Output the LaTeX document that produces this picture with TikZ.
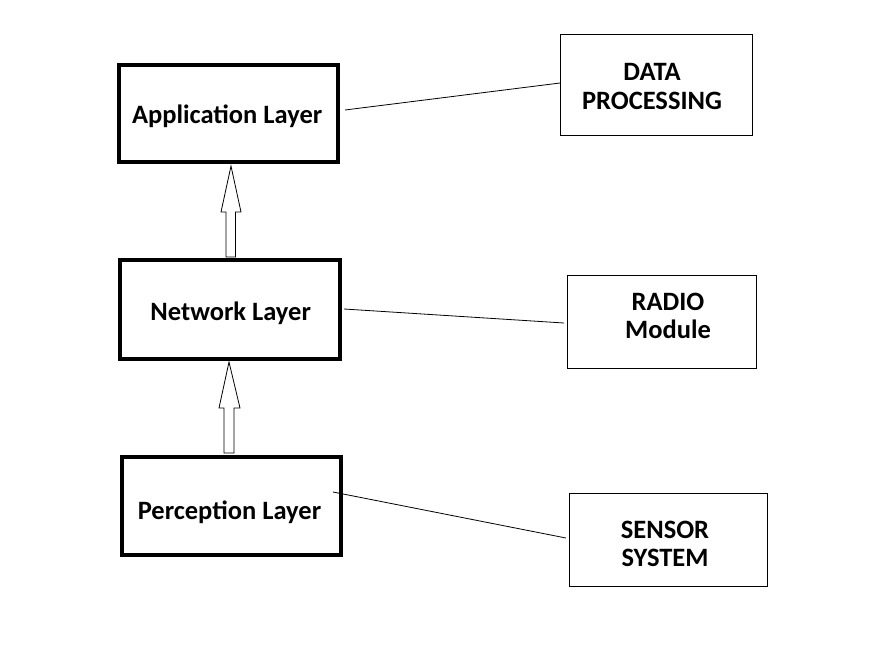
\documentclass[tikz,border=0pt]{standalone}
\usepackage{fontspec}
\setmainfont{Carlito}
\usetikzlibrary{calc}
\begin{document}
\begin{tikzpicture}[x=1pt,y=-1pt,
  layer/.style={draw=black,line width=4pt,fill=white,inner sep=0pt},
  layertext/.style={inner sep=0pt,font=\fontsize{26.5}{30}\selectfont\bfseries},
  side/.style={draw=black,line width=1pt,fill=white,inner sep=0pt},
  sidetext/.style={inner sep=0pt,align=center,font=\fontsize{26.5}{28.5}\selectfont\bfseries},
  link/.style={draw=black,line width=0.8pt},
  blockarrow/.style={draw=black,line width=0.8pt,fill=white}]
\useasboundingbox (0,0) rectangle (870,667);
\fill[white] (0,0) rectangle (870,667);
% layers
\node[layer,minimum width=219pt,minimum height=97pt] (app) at (228.5,113.5) {};
\node[layer,minimum width=220pt,minimum height=99pt] (net) at (230,309.5) {};
\node[layer,minimum width=219pt,minimum height=98pt] (perc) at (231.5,506) {};
\node[layertext] (apptext) at (227.2,115.8) {Application Layer};
\node[layertext] (nettext) at (230.7,313) {Network Layer};
\node[layertext] (perctext) at (229.5,512.2) {Perception Layer};
% side boxes
\node[side,minimum width=192pt,minimum height=101pt] (dp) at (656.5,85) {};
\node[side,minimum width=189pt,minimum height=93pt] (radio) at (662,322) {};
\node[side,minimum width=198pt,minimum height=93pt] (sensor) at (668.5,540) {};
\node[sidetext] (dptext) at (652,86.5) {DATA\\PROCESSING};
\node[sidetext] (radiotext) at (668,316) {RADIO\\Module};
\node[sidetext] (sensortext) at (665,544) {SENSOR\\SYSTEM};
% links
\coordinate (appL) at (345,110);
\coordinate (dpL) at (560,83);
\coordinate (netL) at (344,309);
\coordinate (radioL) at (564,323);
\coordinate (percL) at (333,492);
\coordinate (sensorL) at (566,538);
\draw[link] (appL) -- (dpL);
\draw[link] (netL) -- (radioL);
\draw[link] (percL) -- (sensorL);
% block arrows
\coordinate (t1) at (231,166);
\draw[blockarrow] (t1) -- (241,212) -- (235.5,212) -- (235.5,257) -- (226,257) -- (226,212) -- (221,212) -- cycle;
\coordinate (t2) at (229,362);
\draw[blockarrow] (t2) -- (240,408) -- (234,408) -- (234,453) -- (224,453) -- (224,408) -- (219,408) -- cycle;
\end{tikzpicture}
\end{document}
